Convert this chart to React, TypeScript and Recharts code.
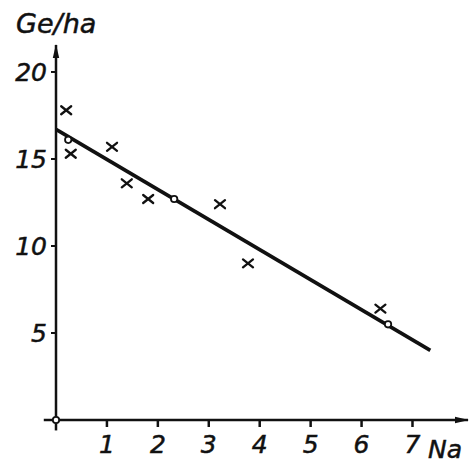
import React from "react";
import { ComposedChart, XAxis, YAxis, Scatter, Line, ReferenceLine } from "recharts";

// measured points (x)
const crossX = [0.2, 0.29, 1.1, 1.39, 1.81, 3.22, 3.77, 6.37];
const crossY = [17.8, 15.3, 15.7, 13.6, 12.7, 12.4, 9.0, 6.4];
// points on the fitted line (o)
const ringX = [0, 0.24, 2.32, 6.52];
const ringY = [0, 16.1, 12.7, 5.5];
// fitted line ends
const fitX = [0, 7.35];
const fitY = [16.7, 4.0];

const xTicks = [1, 2, 3, 4, 5, 6, 7];
const yTicks = [5, 10, 15, 20];

const crosses = crossX.map((x, i) => ({ x, y: crossY[i] }));
const rings = ringX.map((x, i) => ({ x, y: ringY[i] }));
const fit = fitX.map((x, i) => ({ x, y: fitY[i] }));

const INK = "#111";
const FONT = {
  fontFamily: "DejaVu Sans",
  fontStyle: "italic",
  fontSize: 25,
  fill: INK,
  stroke: INK,
  strokeWidth: 0.5,
};

const Cross = (p: any) => (
  <g stroke={INK} strokeWidth={2.3} strokeLinecap="round">
    <line x1={p.cx - 5} y1={p.cy - 4} x2={p.cx + 5} y2={p.cy + 4} />
    <line x1={p.cx - 5} y1={p.cy + 4} x2={p.cx + 5} y2={p.cy - 4} />
  </g>
);

const Ring = (p: any) => <circle cx={p.cx} cy={p.cy} r={3.2} fill="#fff" stroke={INK} strokeWidth={1.8} />;

export default function App() {
  return (
    <div style={{ position: "absolute", left: 0, top: 0, background: "#fff" }}>
      <ComposedChart width={472} height={464} margin={{ top: 45, right: 4, bottom: 0, left: 0 }}>
        <defs>
          <marker id="arrowEnd" viewBox="0 0 14 8" refX="13" refY="4" markerWidth="14" markerHeight="8" markerUnits="userSpaceOnUse" orient="auto">
            <path d="M0,0.8 L14,4 L0,7.2 Z" fill={INK} />
          </marker>
          <marker id="arrowStart" viewBox="0 0 14 8" refX="13" refY="4" markerWidth="14" markerHeight="8" markerUnits="userSpaceOnUse" orient="auto-start-reverse">
            <path d="M0,0.8 L14,4 L0,7.2 Z" fill={INK} />
          </marker>
        </defs>
        <text x={16} y={33} {...FONT} fontSize={27}>
          Ge/ha
        </text>
        <XAxis
          type="number"
          dataKey="x"
          domain={[0, 8.09]}
          ticks={xTicks}
          height={44}
          tickSize={7}
          tickMargin={8}
          tick={FONT}
          axisLine={{ stroke: INK, strokeWidth: 2.5, markerEnd: "url(#arrowEnd)" }}
          tickLine={{ stroke: INK, strokeWidth: 2.5 }}
          label={{ value: "Na", position: "insideBottomRight", offset: 6, ...FONT }}
        />
        <YAxis
          type="number"
          dataKey="y"
          domain={[0, 21.55]}
          ticks={yTicks}
          width={56}
          tickSize={5}
          tickMargin={4}
          tick={FONT}
          axisLine={{ stroke: INK, strokeWidth: 2.5, markerStart: "url(#arrowStart)" }}
          tickLine={{ stroke: INK, strokeWidth: 2 }}
        />
        <ReferenceLine segment={[{ x: -0.24, y: 0 }, { x: 0, y: 0 }]} stroke={INK} strokeWidth={2.5} ifOverflow="visible" />
        <ReferenceLine segment={[{ x: 0, y: -0.6 }, { x: 0, y: 0 }]} stroke={INK} strokeWidth={2.5} ifOverflow="visible" />
        <Line data={fit} dataKey="y" type="linear" stroke={INK} strokeWidth={3.6} dot={false} isAnimationActive={false} />
        <Scatter data={crosses} shape={Cross} isAnimationActive={false} />
        <Scatter data={rings} shape={Ring} isAnimationActive={false} />
      </ComposedChart>
    </div>
  );
}
